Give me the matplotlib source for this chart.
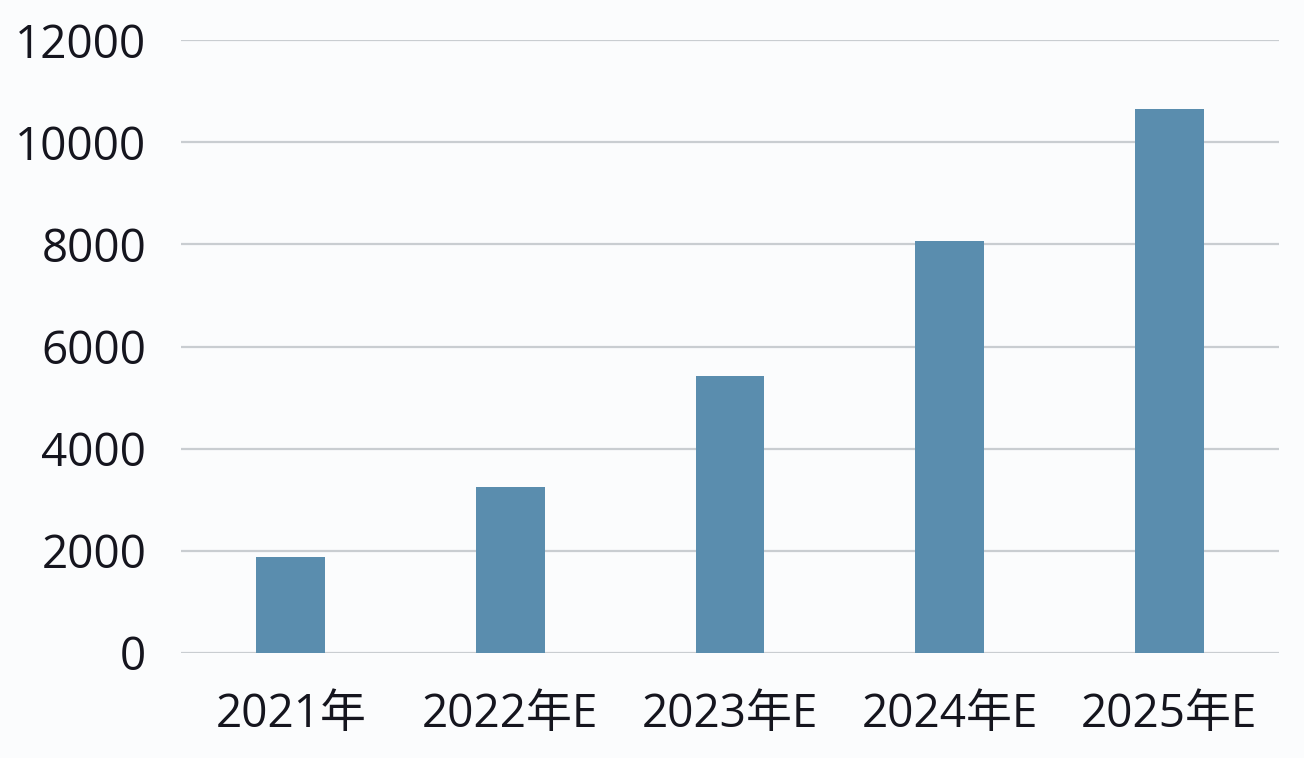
import matplotlib
matplotlib.use("Agg")
import matplotlib.pyplot as plt

categories = ["2021年", "2022年E", "2023年E", "2024年E", "2025年E"]
values = [1870, 3250, 5420, 8070, 10640]
yticks = [0, 2000, 4000, 6000, 8000, 10000, 12000]

plt.rcParams['font.family'] = ['Open Sans', 'Noto Sans CJK SC', 'DejaVu Sans']

fig = plt.figure(figsize=(13.04, 7.58), dpi=100)
fig.patch.set_facecolor('#fbfcfd')
ax = fig.add_axes([181/1304, 1-653/758, (1279-181)/1304, 613/758])
ax.set_facecolor('none')

x = list(range(len(categories)))
ax.bar(x, values, width=0.314, color='#5a8dae', zorder=3)

ax.set_xlim(-0.5, 4.5)
ax.set_ylim(0, 12000)
ax.set_yticks(yticks)
ax.set_yticklabels([str(v) for v in yticks])
ax.set_xticks(x)
ax.set_xticklabels(categories)
ax.yaxis.grid(True, color='#c9cdd1', linewidth=1.6, zorder=0)
ax.set_axisbelow(True)
for s in ax.spines.values():
    s.set_visible(False)
ax.tick_params(axis='both', length=0, labelsize=33, colors='#15151e')
ax.tick_params(axis='y', pad=25)
ax.tick_params(axis='x', pad=28)

fig.savefig("out.png", dpi=100, facecolor=fig.get_facecolor())
